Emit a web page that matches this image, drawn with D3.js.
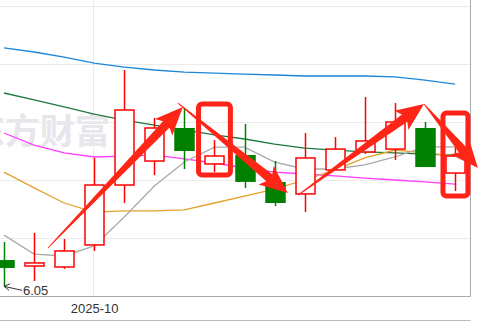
<!doctype html>
<html>
<head>
<style>
body { margin: 0; background: #fff; }
svg { display: block; font-family: Arial, "Liberation Sans", sans-serif; }
</style>
<script src="https://d3js.org/d3.v7.min.js"></script>
</head>
<body>
<svg width="481" height="321"></svg>
<script>
// daily candles
var dates  = ["2025-09-26","2025-09-29","2025-09-30","2025-10-09","2025-10-10","2025-10-13","2025-10-14","2025-10-15",
              "2025-10-16","2025-10-17","2025-10-20","2025-10-21","2025-10-22","2025-10-23","2025-10-24","2025-10-27"];
var opens  = [6.186, 6.155, 6.150, 6.264, 6.574, 6.698, 6.869, 6.683, 6.729, 6.590, 6.528, 6.652, 6.745, 6.760, 6.869, 6.636];
var highs  = [6.279, 6.326, 6.295, 6.714, 7.169, 6.921, 6.972, 6.807, 6.890, 6.698, 6.843, 6.822, 7.029, 6.998, 6.900, 6.771];
var lows   = [6.050, 6.078, 6.140, 6.233, 6.481, 6.626, 6.657, 6.641, 6.559, 6.465, 6.434, 6.652, 6.735, 6.703, 6.667, 6.543];
var closes = [6.145, 6.171, 6.233, 6.574, 6.962, 6.869, 6.750, 6.724, 6.590, 6.481, 6.714, 6.760, 6.802, 6.900, 6.667, 6.724];

// moving averages
var ma5  = [6.315, 6.217, 6.207, 6.259, 6.409, 6.569, 6.693, 6.770, 6.770, 6.693, 6.657, 6.657, 6.678, 6.719, 6.771, 6.771];
var ma10 = [6.641, 6.559, 6.481, 6.434, 6.440, 6.440, 6.445, 6.481, 6.517, 6.553, 6.600, 6.652, 6.714, 6.755, 6.740, 6.724];
var ma20 = [6.843, 6.781, 6.740, 6.719, 6.724, 6.729, 6.709, 6.688, 6.662, 6.641, 6.631, 6.621, 6.610, 6.600, 6.590, 6.579];
var ma30 = [7.050, 7.014, 6.978, 6.941, 6.910, 6.884, 6.859, 6.833, 6.812, 6.786, 6.765, 6.755, 6.745, 6.740, 6.734, 6.729];
var ma60 = [7.283, 7.262, 7.236, 7.205, 7.184, 7.169, 7.158, 7.153, 7.148, 7.143, 7.138, 7.138, 7.138, 7.133, 7.117, 7.096];

var yTicks = [6.3, 6.6, 6.9, 7.2, 7.5];
var monthTicks = ["2025-10-09"];
var monthLabels = ["2025-10"];

// hand drawn marks: [fromIndex, fromPrice, toIndex, toPrice]
var arrows = [[1.46, 6.248, 5.95, 6.977], [5.79, 6.998, 9.44, 6.533],
              [9.78, 6.522, 13.97, 6.993], [13.97, 6.993, 15.76, 6.662]];
// boxes: [leftIndex, rightIndex, topPrice, bottomPrice]
var boxes = [[6.47, 7.53, 6.993, 6.626], [14.6, 15.43, 6.946, 6.517]];

var svg = d3.select("svg");
var W = 470, H = 296;

var x = d3.scaleLinear().domain([0, dates.length - 1]).range([4, 455]);
var y = d3.scaleLinear().domain([6.0, 7.5]).range([H, 6]);

// watermark
svg.append("text")
   .attr("x", -30).attr("y", 144)
   .attr("font-family", "'Noto Sans CJK SC', sans-serif")
   .attr("font-size", 35).attr("font-weight", "bold")
   .attr("fill", "#e6e6eb")
   .text("东方财富");

// grid
svg.append("g").selectAll("line")
   .data(yTicks).enter().append("line")
   .attr("x1", 0).attr("x2", W)
   .attr("y1", function(d){ return Math.round(y(d)) + 0.5; })
   .attr("y2", function(d){ return Math.round(y(d)) + 0.5; })
   .attr("stroke", "#ebebeb");

svg.append("g").selectAll("line")
   .data(monthTicks).enter().append("line")
   .attr("x1", function(d){ return Math.round(x(dates.indexOf(d))) - 0.5; })
   .attr("x2", function(d){ return Math.round(x(dates.indexOf(d))) - 0.5; })
   .attr("y1", 0).attr("y2", H)
   .attr("stroke", "#ebebeb");

// frame
svg.append("line").attr("x1", 0).attr("x2", W + 0.5).attr("y1", H + 0.5).attr("y2", H + 0.5).attr("stroke", "#aaa");
svg.append("line").attr("x1", W + 0.5).attr("x2", W + 0.5).attr("y1", 0).attr("y2", H + 0.5).attr("stroke", "#aaa");
svg.append("line").attr("x1", 0).attr("x2", W + 0.5).attr("y1", 320.5).attr("y2", 320.5).attr("stroke", "#bbb");

// x axis label
var xa = svg.append("g")
   .attr("transform", "translate(0," + H + ")")
   .call(d3.axisBottom(x)
        .tickValues(monthTicks.map(function(d){ return dates.indexOf(d); }))
        .tickFormat(function(d, i){ return monthLabels[i]; })
        .tickSize(0).tickPadding(8));
xa.select(".domain").remove();
xa.selectAll("text").attr("font-size", 13).attr("fill", "#333")
  .attr("font-family", "Arial, 'Liberation Sans', sans-serif");

// moving average lines
var line = d3.line().x(function(d, i){ return x(i); }).y(function(d){ return y(d); });
var maList = [[ma60, "#1c86d8"], [ma30, "#1d7a3e"], [ma20, "#ff3cff"], [ma10, "#e5a02a"], [ma5, "#aaaaaa"]];
maList.forEach(function(m){
    svg.append("path").datum(m[0])
       .attr("d", line)
       .attr("fill", "none")
       .attr("stroke", m[1])
       .attr("stroke-width", 1.3);
});

// candles
var bw = 19;
var candles = svg.append("g").selectAll("g")
    .data(dates).enter().append("g");

candles.each(function(d, i){
    var g = d3.select(this);
    var cx = Math.round(x(i)) + 0.5;
    var up = closes[i] >= opens[i];
    var top = y(Math.max(opens[i], closes[i]));
    var bot = y(Math.min(opens[i], closes[i]));
    if (up) {
        g.append("line").attr("x1", cx).attr("x2", cx).attr("y1", y(highs[i])).attr("y2", top)
         .attr("stroke", "#f00").attr("stroke-width", 1.5);
        g.append("line").attr("x1", cx).attr("x2", cx).attr("y1", bot).attr("y2", y(lows[i]))
         .attr("stroke", "#f00").attr("stroke-width", 1.5);
        g.append("rect").attr("x", cx - bw / 2).attr("y", top)
         .attr("width", bw).attr("height", Math.max(bot - top, 1))
         .attr("fill", "#fff").attr("stroke", "#f00").attr("stroke-width", 1.5);
    } else {
        g.append("line").attr("x1", cx).attr("x2", cx).attr("y1", y(highs[i])).attr("y2", y(lows[i]))
         .attr("stroke", "#008000").attr("stroke-width", 1.5);
        g.append("rect").attr("x", cx - bw / 2 - 0.75).attr("y", top)
         .attr("width", bw + 1.5).attr("height", Math.max(bot - top, 1))
         .attr("fill", "#008000");
    }
});

// low price callout
var lowI = lows.indexOf(d3.min(lows));
var lx = x(lowI), ly = y(lows[lowI]);
svg.append("path")
   .attr("d", "M" + (lx + 18) + "," + (ly + 4) + "L" + (lx) + "," + (ly) +
              "M" + (lx + 6) + "," + (ly - 2.5) + "L" + lx + "," + ly + "L" + (lx + 5) + "," + (ly + 4))
   .attr("fill", "none").attr("stroke", "#333").attr("stroke-width", 1);
svg.append("text")
   .attr("x", lx + 19).attr("y", ly + 9)
   .attr("font-size", 13).attr("fill", "#333")
   .text(d3.format(".2f")(lows[lowI]));

// highlight boxes
svg.append("g").selectAll("rect")
   .data(boxes).enter().append("rect")
   .attr("x", function(d){ return x(d[0]); })
   .attr("y", function(d){ return y(d[2]); })
   .attr("width", function(d){ return x(d[1]) - x(d[0]); })
   .attr("height", function(d){ return y(d[3]) - y(d[2]); })
   .attr("rx", 3.5)
   .attr("fill", "none").attr("stroke", "#ff2218").attr("stroke-width", 5);

// arrows
function arrowShape(d){
    var x0 = x(d[0]), y0 = y(d[1]), x1 = x(d[2]), y1 = y(d[3]);
    var dx = x1 - x0, dy = y1 - y0, L = Math.sqrt(dx * dx + dy * dy);
    var ux = dx / L, uy = dy / L, nx = -uy, ny = ux;
    var hl = 24, hw = 12, sw = 4.6, tw = 0.4;
    var bx = x1 - ux * hl, by = y1 - uy * hl;
    var pts = [
        [x0 + nx * tw, y0 + ny * tw],
        [bx + nx * sw, by + ny * sw],
        [bx - ux * 4 + nx * hw, by - uy * 4 + ny * hw],
        [x1, y1],
        [bx - ux * 4 - nx * hw, by - uy * 4 - ny * hw],
        [bx - nx * sw, by - ny * sw],
        [x0 - nx * tw, y0 - ny * tw]
    ];
    return "M" + pts.map(function(p){ return p[0].toFixed(1) + "," + p[1].toFixed(1); }).join("L") + "Z";
}
svg.append("g").selectAll("path")
   .data(arrows).enter().append("path")
   .attr("d", arrowShape)
   .attr("fill", "#ff2617");
</script>
</body>
</html>
